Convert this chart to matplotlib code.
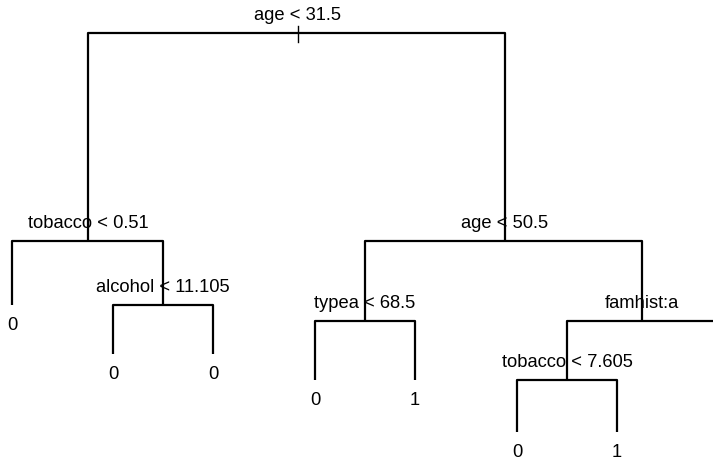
import matplotlib.pyplot as plt

# splits of the fitted tree (node number -> label), heap numbering: children of n are 2n, 2n+1
split_labels = {1: "age < 31.5", 2: "tobacco < 0.51", 3: "age < 50.5",
                5: "alcohol < 11.105", 6: "typea < 68.5", 7: "famhist:a",
                14: "tobacco < 7.605"}
# predicted class at each visible leaf
leaf_labels = {4: "0", 10: "0", 11: "0", 12: "0", 13: "1", 28: "0", 29: "1"}

# node positions (x, depth)
node_x = {1: 298, 2: 88, 3: 505, 4: 12, 5: 163, 6: 365, 7: 642, 10: 113, 11: 213,
          12: 315, 13: 415, 14: 567, 15: 717, 28: 517, 29: 617}
node_y = {1: 34, 2: 242, 3: 242, 4: 306, 5: 306, 6: 322, 7: 322, 10: 355, 11: 355,
          12: 381, 13: 381, 14: 381, 15: 400, 28: 433, 29: 433}

plt.rcParams['font.family'] = ['Liberation Sans', 'DejaVu Sans']
fig = plt.figure(figsize=(7.13, 4.6), dpi=100)
ax = fig.add_axes([0, 0, 1, 1])
ax.set_xlim(0, 713)
ax.set_ylim(460, 0)
ax.axis('off')

lw = 1.6
fs = 13.2

# little tick at the root
ax.plot([node_x[1], node_x[1]], [27, 43], color='black', lw=1)

for n in node_x:
    if n == 1:
        continue
    px, py = node_x[n // 2], node_y[n // 2]
    x, y = node_x[n], node_y[n]
    ax.plot([px, x, x], [py, py, y], color='black', lw=lw, solid_capstyle='butt')

for n, lab in split_labels.items():
    ax.text(node_x[n], node_y[n] - 18, lab, ha='center', va='center', fontsize=fs)

for n, lab in leaf_labels.items():
    ax.text(node_x[n], node_y[n] + 20, lab, ha='center', va='center', fontsize=fs)

fig.savefig('out.png', dpi=100)
